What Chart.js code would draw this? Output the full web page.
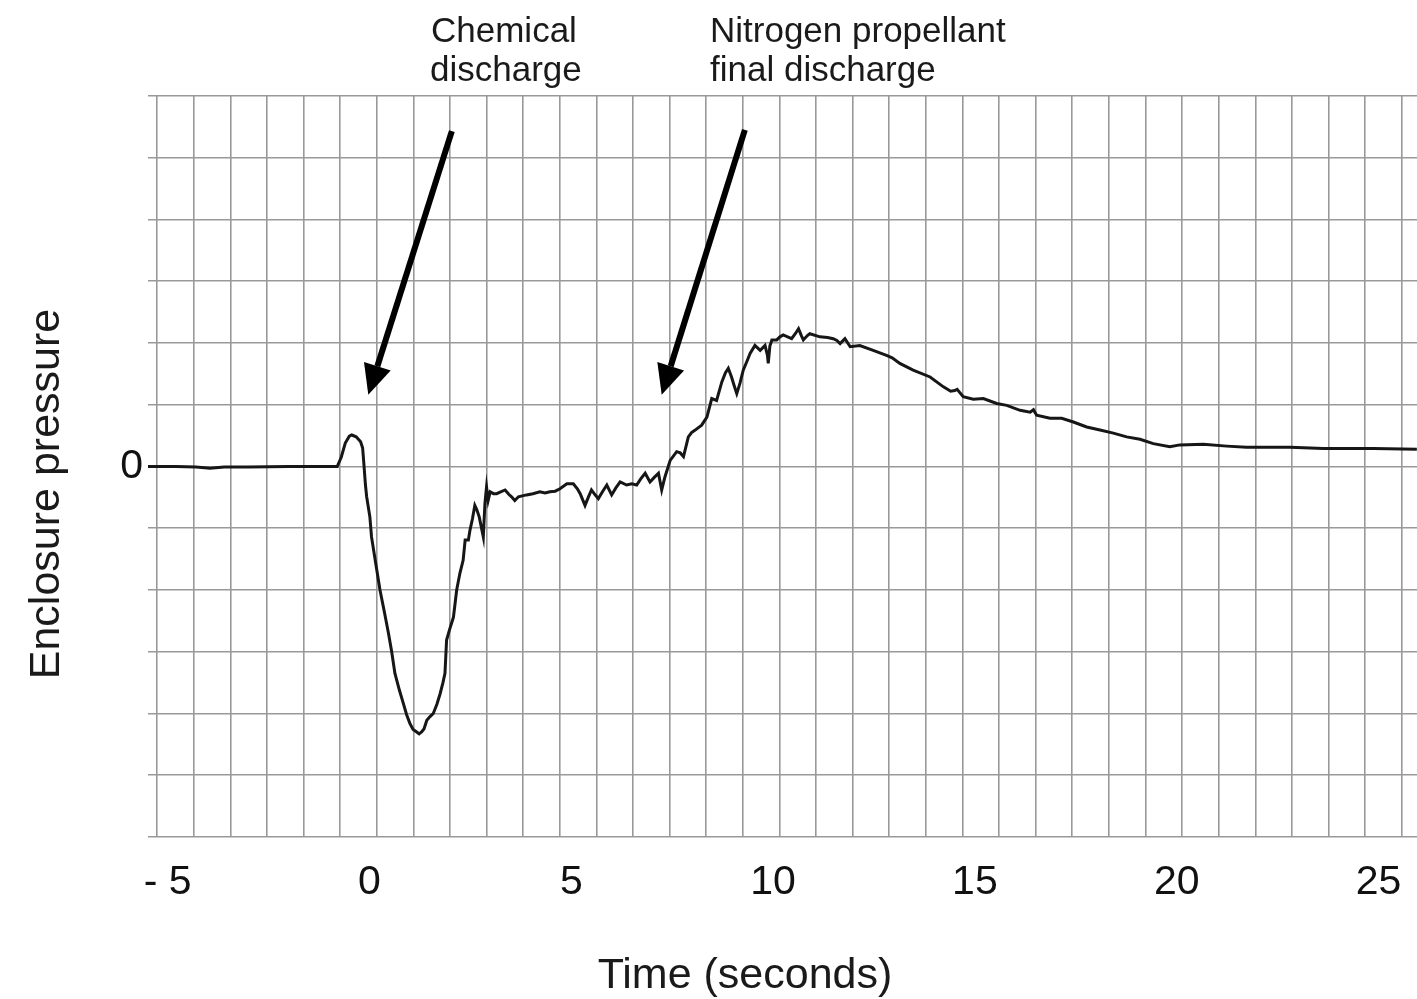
<!DOCTYPE html>
<html>
<head>
<meta charset="utf-8">
<title>Enclosure pressure</title>
<script src="https://cdn.jsdelivr.net/npm/chart.js@4.4.1/dist/chart.umd.min.js"></script>
<style>
    body { margin: 0; background: #fff; }
    #chart { display: block; }
</style>
</head>
<body>
<canvas id="chart" width="1417" height="999"></canvas>
<script>
// time in seconds, pressure in grid divisions (0 = ambient)
const timeSec = [
    -5.49, -4.8, -4.3, -3.95, -3.6, -3.0, -2.0, -1.0, -0.8, -0.7,
    -0.6, -0.5, -0.44, -0.33, -0.22, -0.17, -0.14, -0.10, -0.07, 0.01,
    0.05, 0.15, 0.26, 0.37, 0.47, 0.55, 0.63, 0.74, 0.84, 0.92,
    1.0, 1.08, 1.17, 1.23, 1.29, 1.35, 1.42, 1.50, 1.58, 1.67,
    1.75, 1.82, 1.87, 1.91, 1.98, 2.08, 2.16, 2.24, 2.32, 2.37,
    2.45, 2.49, 2.55, 2.61, 2.66, 2.72, 2.82, 2.86, 2.90, 2.94,
    2.99, 3.07, 3.15, 3.25, 3.36, 3.45, 3.52, 3.60, 3.69, 3.89,
    4.05, 4.22, 4.35, 4.47, 4.60, 4.72, 4.89, 5.05, 5.15, 5.22,
    5.34, 5.42, 5.50, 5.58, 5.67, 5.78, 5.88, 6.0, 6.10, 6.21,
    6.37, 6.50, 6.62, 6.72, 6.83, 6.95, 7.05, 7.16, 7.24, 7.32,
    7.45, 7.61, 7.70, 7.78, 7.90, 7.98, 8.07, 8.15, 8.23, 8.36,
    8.48, 8.60, 8.73, 8.82, 8.89, 8.97, 9.04, 9.10, 9.18, 9.26,
    9.35, 9.43, 9.55, 9.68, 9.80, 9.86, 9.88, 9.92, 9.97, 10.09,
    10.17, 10.25, 10.36, 10.46, 10.55, 10.63, 10.70, 10.75, 10.85, 10.91,
    11.16, 11.35, 11.49, 11.58, 11.66, 11.78, 11.91, 12.15, 12.48, 12.81,
    12.95, 13.14, 13.47, 13.89, 14.22, 14.40, 14.50, 14.56, 14.71, 14.96,
    15.21, 15.54, 15.79, 16.12, 16.37, 16.45, 16.53, 16.86, 17.15, 17.44,
    17.77, 18.10, 18.43, 18.76, 19.09, 19.42, 19.83, 20.08, 20.66, 21.24,
    21.73, 22.81, 23.63, 24.87, 25.95
];
const pressure = [
    0, 0, -0.01, -0.03, -0.01, -0.01, 0, 0, 0, 0.15,
    0.38, 0.49, 0.51, 0.48, 0.40, 0.30, 0.05, -0.30, -0.49, -0.82,
    -1.14, -1.55, -2.0, -2.36, -2.70, -3.0, -3.35, -3.62, -3.84, -4.02,
    -4.16, -4.26, -4.30, -4.33, -4.30, -4.25, -4.11, -4.05, -4.00, -3.85,
    -3.68, -3.50, -3.35, -2.81, -2.65, -2.44, -2.0, -1.73, -1.52, -1.19,
    -1.19, -1.03, -0.85, -0.63, -0.70, -0.82, -1.14, -0.60, -0.33, -0.55,
    -0.41, -0.44, -0.44, -0.41, -0.38, -0.45, -0.49, -0.55, -0.49, -0.46,
    -0.44, -0.41, -0.43, -0.41, -0.40, -0.36, -0.28, -0.28, -0.36, -0.44,
    -0.63, -0.50, -0.38, -0.45, -0.52, -0.40, -0.30, -0.46, -0.35, -0.25,
    -0.30, -0.28, -0.30, -0.20, -0.11, -0.25, -0.18, -0.11, -0.38, -0.17,
    0.10, 0.24, 0.22, 0.16, 0.48, 0.55, 0.59, 0.63, 0.67, 0.80,
    1.10, 1.07, 1.37, 1.52, 1.59, 1.45, 1.30, 1.18, 1.35, 1.56,
    1.70, 1.83, 1.96, 1.88, 1.96, 1.80, 1.67, 1.95, 2.05, 2.05,
    2.10, 2.13, 2.10, 2.07, 2.15, 2.23, 2.12, 2.05, 2.12, 2.15,
    2.10, 2.09, 2.07, 2.04, 1.99, 2.07, 1.94, 1.96, 1.88, 1.80,
    1.76, 1.67, 1.56, 1.45, 1.29, 1.22, 1.23, 1.25, 1.13, 1.09,
    1.10, 1.02, 0.99, 0.91, 0.88, 0.92, 0.83, 0.78, 0.78, 0.72,
    0.64, 0.59, 0.54, 0.48, 0.44, 0.37, 0.32, 0.35, 0.36, 0.33,
    0.31, 0.31, 0.29, 0.29, 0.28
];
const xTickValues = [-5, 0, 5, 10, 15, 20, 25];
const yTickLabels = { 0: '0' };
const gridColumns = 34;

// arrows: tail and tip in data units (seconds, divisions)
const arrows = [
    { from: [2.04, 5.43], to: [-0.03, 1.16] },
    { from: [9.30, 5.45], to: [7.24, 1.16] }
];

const FONT = '"Liberation Sans", Arial, sans-serif';
const GRID = '#999999';

const annotationsPlugin = {
    id: 'annotations',
    afterDatasetsDraw(chart) {
        const ctx = chart.ctx;
        const x = chart.scales.x, y = chart.scales.y;
        ctx.save();
        ctx.strokeStyle = '#000';
        ctx.fillStyle = '#000';
        arrows.forEach(a => {
            const x1 = x.getPixelForValue(a.from[0]), y1 = y.getPixelForValue(a.from[1]);
            const x2 = x.getPixelForValue(a.to[0]), y2 = y.getPixelForValue(a.to[1]);
            const ang = Math.atan2(y2 - y1, x2 - x1);
            const headLen = 30, headHalf = 14;
            const bx = x2 - headLen * Math.cos(ang), by = y2 - headLen * Math.sin(ang);
            ctx.lineWidth = 6;
            ctx.beginPath();
            ctx.moveTo(x1, y1);
            ctx.lineTo(bx, by);
            ctx.stroke();
            ctx.beginPath();
            ctx.moveTo(x2, y2);
            ctx.lineTo(bx + headHalf * Math.sin(ang), by - headHalf * Math.cos(ang));
            ctx.lineTo(bx - headHalf * Math.sin(ang), by + headHalf * Math.cos(ang));
            ctx.closePath();
            ctx.fill();
        });
        ctx.restore();
    },
    afterDraw(chart) {
        const ctx = chart.ctx;
        ctx.save();
        ctx.fillStyle = '#1a1a1a';
        ctx.textBaseline = 'alphabetic';
        ctx.textAlign = 'left';
        ctx.font = '35px ' + FONT;
        ctx.fillText('Chemical', 431, 42);
        ctx.fillText('discharge', 430, 81);
        ctx.fillText('Nitrogen propellant', 710, 42);
        ctx.fillText('final discharge', 710, 81);

        ctx.font = '43px ' + FONT;
        ctx.textAlign = 'center';
        ctx.textBaseline = 'middle';
        ctx.fillText('Time (seconds)', 745, 976);
        ctx.translate(47, 494);
        ctx.rotate(-Math.PI / 2);
        ctx.fillText('Enclosure pressure', 0, 0);
        ctx.restore();
    }
};

const ctx = document.getElementById('chart').getContext('2d');
new Chart(ctx, {
    type: 'line',
    data: {
        datasets: [{
            data: timeSec.map((t, i) => ({ x: t, y: pressure[i] })),
            borderColor: '#161616',
            borderWidth: 3,
            pointRadius: 0,
            tension: 0,
            fill: false
        }]
    },
    options: {
        responsive: false,
        animation: false,
        devicePixelRatio: 1,
        layout: { padding: { top: 96, right: 0, left: 0, bottom: 0 } },
        plugins: {
            legend: { display: false },
            tooltip: { enabled: false }
        },
        scales: {
            x: {
                type: 'linear',
                position: 'bottom',
                min: -5.488,
                max: 25.954,
                afterBuildTicks: s => { s.ticks = xTickValues.map(v => ({ value: v })); },
                afterFit: s => { s.height = 162; },
                // grid hidden; tick length only pushes the labels down
                grid: { display: false, drawTicks: true, tickLength: 21 },
                border: { display: false },
                ticks: {
                    padding: 0,
                    color: '#111',
                    font: { family: FONT, size: 41 },
                    maxRotation: 0,
                    autoSkip: false,
                    callback: v => v < 0 ? '- ' + Math.abs(v) : String(v)
                }
            },
            xg: {
                type: 'linear',
                position: 'bottom',
                min: -0.254,
                max: 34.418,
                afterBuildTicks: s => {
                    s.ticks = [];
                    for (let k = 0; k <= gridColumns; k++) s.ticks.push({ value: k });
                },
                afterFit: s => { s.height = 0; },
                grid: { color: GRID, lineWidth: 1.6, drawTicks: false },
                border: { display: false },
                ticks: { display: false }
            },
            y: {
                type: 'linear',
                min: -6,
                max: 6,
                afterFit: s => { s.width = 148; },
                grid: { color: GRID, lineWidth: 1.6, drawTicks: false },
                border: { display: false },
                ticks: {
                    stepSize: 1,
                    padding: 5,
                    color: '#111',
                    font: { family: FONT, size: 41 },
                    callback: v => yTickLabels[v] || ''
                }
            }
        }
    },
    plugins: [annotationsPlugin]
});
</script>
</body>
</html>
